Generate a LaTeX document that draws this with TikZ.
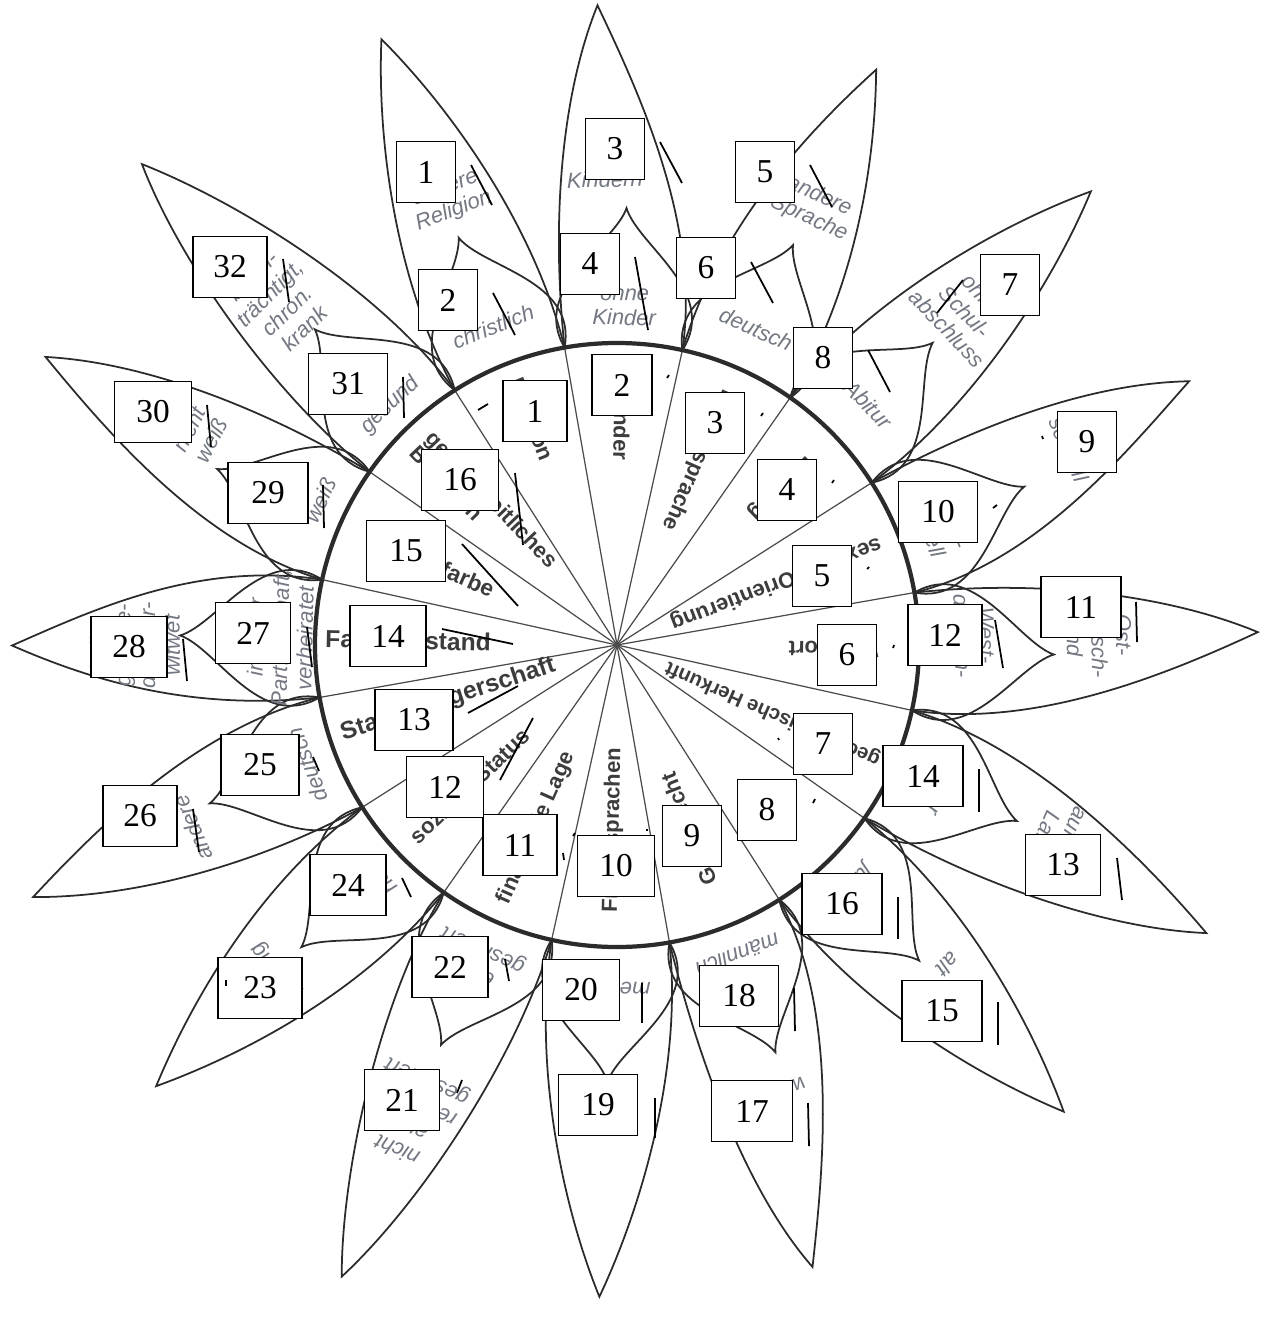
\documentclass[tikz,border=0pt]{standalone}
\usepackage{fontspec}
\setmainfont{Liberation Serif}
\setsansfont{Liberation Sans}
\usetikzlibrary{calc}
\definecolor{flowerline}{HTML}{2B2B2B}
\definecolor{petalgray}{HTML}{737882}
\definecolor{labelgray}{HTML}{3C3C3C}

\begin{document}
\begin{tikzpicture}[x=0.02cm, y=-0.02cm,
  petal/.style={draw=flowerline, line width=1pt},
  spoke/.style={draw=flowerline!85, line width=0.7pt},
  rim/.style={draw=flowerline, line width=2.4pt},
  seclabel/.style={text=labelgray, anchor=west, align=left, inner sep=0pt},
  petaltext/.style={font=\sffamily\itshape\fontsize{12.5}{14}\selectfont, text=petalgray, align=center, inner sep=0pt},
  numbox/.style={draw=black, line width=1pt, fill=white, minimum height=1.22cm, inner sep=0pt, font=\fontsize{19}{19}\selectfont},
  tickline/.style={draw=black, line width=1pt}]
\fill[white] (0,0) rectangle (1264,1317);
\useasboundingbox (0,0) rectangle (1264,1317);

\begin{scope}[shift={(617,645)}, y=0.02cm]
% Outer petals: axis angle / tip deviation / tip radius
\foreach \a/\d/\t [count=\i] in {111.25/0/650, 88.75/3/640, 66.25/-0.5/631, 43.75/0/656, 21.25/3.5/630, -1.25/2.4/641,
  -23.75/-2.3/656, -46.25/0/646, -68.75/-3.8/652, -91.25/-0.3/652, -113.75/0.2/689, -136.25/0/638,
  -158.75/2.1/636, 178.75/1.3/605, 156.25/-3/640, 133.75/0.9/676}
  \draw[petal] (\a+11.25:302) .. controls (\a+10.1:427) and (\a+\d+4.1:{0.862*\t}) .. (\a+\d:\t)
    .. controls (\a+\d-4.1:{0.862*\t}) and (\a-10.1:427) .. (\a-11.25:302);
% Inner petals
\foreach \a in {111.25, 88.75, 66.25, 43.75, 21.25, -1.25, -23.75, -46.25, -68.75, -91.25, -113.75, -136.25,
  -158.75, 178.75, 156.25, 133.75}
  \draw[petal, rotate=\a] (296.2,58.9) .. controls (355,95) and (400,12) .. (437,0)
    .. controls (400,-12) and (355,-95) .. (296.2,-58.9);
% Spokes and rim
\foreach \s in {0,...,15}
  \draw[spoke] (0,0) -- ({10+22.5*\s}:302);
\draw[rim] (0,0) circle[radius=302];
% Sector labels, reading inwards: angle / start radius / size / text
\foreach \a/\r/\sz/\txt [count=\i] in {111.25/285/12.5/Religion, 88.75/255/12.5/Kinder, 66.25/278/12.5/Muttersprache,
  43.75/268/12.5/Bildung, 21.25/283/12.5/sexuelle Orientierung, -1.25/262/12.5/Wohnort,
  -23.75/287/11.5/geographische Herkunft, -46.25/250/12.5/Alter, -68.75/257/12.5/Geschlecht,
  -91.25/268/12.5/Fremdsprachen, -113.75/282/12.5/finanzielle Lage, -136.25/282/12.5/sozialer Status,
  -162/290/14/Staatsbürgerschaft, 178.75/292/14/Familienstand, 156.25/242/13/Hautfarbe,
  133.75/282/12.5/{gesundheitliches\\Befinden}}
  \node[seclabel, font=\sffamily\bfseries\fontsize{\sz}{\sz}\selectfont, rotate=\a+180] (sec\i) at (\a:\r) {\txt};
% Texts in the outer petals: angle / radius / text
\foreach \a/\r/\txt [count=\i] in {110.6/476/{andere\\Religion}, 91.5/478/{mit\\Kindern}, 65.75/480/{andere\\Sprache},
  43.75/482/{ohne\\Schul-\\abschluss}, 23.4/505/{homo-\\sexuell}, 1.15/482/{Ost-\\deutsch-\\land},
  -24/480/{auf dem\\Land}, -44/460/{alt}, -71.5/476/{weiblich}, -91.55/482/{keine},
  -113.55/512/{nicht\\aus-\\reichend\\gesichert}, -136.25/482/{sehr\\niedrig}, -156.65/462/{andere},
  180.05/482/{ledig,\\geschie-\\den, ver-\\witwet}, 153.25/467/{nicht\\weiß}, 134.65/482/{beein-\\trächtigt,\\chron.\\krank}}
  \node[petaltext, rotate=\a-90] (outtxt\i) at (\a:\r) {\txt};
% Texts in the inner petals: angle / radius / text
\foreach \a/\r/\txt [count=\i] in {111.25/342/{christlich}, 88.75/340/{ohne\\Kinder}, 66.25/345/{deutsch},
  43.75/348/{Abitur}, 21.25/345/{hetero-\\sexuell}, 1.5/345/{West-\\deutsch-\\land}, -23.75/345/{in der\\Stadt},
  -45/335/{jung}, -68.75/333/{männlich}, -91.25/345/{mehrere}, -113.75/345/{eher\\gesichert},
  -136.25/345/{sehr\\hoch}, -158.8/332/{deutsch}, 178.75/337/{in fester\\Partnerschaft,\\verheiratet},
  154/330/{weiß}, 133.4/330/{gesund}}
  \node[petaltext, rotate=\a-90] (intxt\i) at (\a:\r) {\txt};
\end{scope}

% Number boxes on the petals
\foreach \n/\x/\y/\w in {1/426/172/59, 2/448/300/59, 3/615/149/59, 4/590/264/59, 5/765/172/59, 6/706/268/59,
  7/1010/285/59, 8/823/358/59, 9/1087/442/59, 10/938/512/79, 11/1081/607/80, 12/945/635/74, 13/1063/865/75,
  14/923/776/80, 15/942/1011/80, 16/842/904/80, 17/752/1111/81, 18/739/996/79, 19/598/1105/79, 20/581/990/77,
  21/402/1100/75, 22/450/967/76, 23/260/988/84, 24/348/885/76, 25/260/765/78, 26/140/816/74, 27/253/633/75,
  28/129/647/76, 29/268/493/80, 30/153/412/77, 31/348/384/79, 32/230/267/74}
  \node[numbox, minimum width={\w*0.02cm}] (pbox\n) at (\x,\y) {\n};
% Number boxes in the sectors
\foreach \n/\x/\y/\w in {1/535/411/64, 2/622/385/60, 3/715/423/59, 4/787/490/59, 5/822/576/59, 6/847/655/59,
  7/823/744/59, 8/767/810/59, 9/692/836/59, 10/616/866/77, 11/520/845/74, 12/445/787/77, 13/414/720/78,
  14/388/636/76, 15/406/551/79, 16/460/480/77}
  \node[numbox, minimum width={\w*0.02cm}] (sbox\n) at (\x,\y) {\n};

% Pointer strokes
\foreach \xa/\ya/\xb/\yb in {471/165/492/205, 493/293/515/335, 660/142/682/183, 635/257/648/330, 810/165/832/207,
  751/262/773/303, 963/280/937/313, 868/350/890/392, 1042/436/1043/439, 993/508/997/505, 1136/602/1137/642,
  995/620/1003/668, 1117/858/1122/900, 979/769/979/812, 998/1002/998/1045, 898/897/898/939, 808/1103/809/1146,
  794/988/795/1031, 655/1098/655/1138, 642/983/642/1023, 457/1093/462/1080, 505/959/509/981, 226/980/226/986,
  402/878/411/897, 313/757/319/771, 193/809/199/852, 307/627/312/667, 183/639/187/681, 323/485/324/528,
  207/405/211/447, 403/377/404/418, 283/259/289/302,
  478/410/488/404, 667/378/669/375, 761/416/763/413, 832/483/834/480, 867/569/869/567, 893/648/894/645,
  778/738/779/740, 813/803/815/799, 647/829/647/831, 563/853/564/860, 573/836/575/833, 500/780/533/718,
  468/713/518/686, 442/629/513/644, 462/544/518/606, 515/473/523/545}
  \draw[tickline] (\xa,\ya) -- (\xb,\yb);
\end{tikzpicture}
\end{document}
